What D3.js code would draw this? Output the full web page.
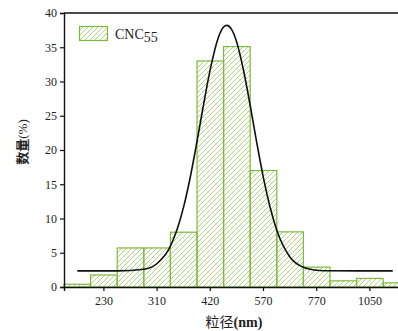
<!DOCTYPE html>
<html>
<head>
<meta charset="utf-8">
<script src="https://cdn.jsdelivr.net/npm/d3@7/dist/d3.min.js"></script>
<style>
  body { margin: 0; background: #fff; }
  svg { display: block; }
</style>
</head>
<body>
<svg id="chart" width="398" height="331"></svg>
<script>
// bins (nm) - only every other one gets a label on the axis
const sizes = ["190", "230", "270", "310", "370", "420", "490", "570", "660", "770", "900", "1050", "1200"];
const counts = [0.4, 1.75, 5.7, 5.7, 8.0, 33.0, 35.1, 17.0, 8.05, 2.9, 0.9, 1.25, 0.6];
const tickLabels = ["230", "310", "420", "570", "770", "1050"];
const yTicks = [0, 5, 10, 15, 20, 25, 30, 35, 40];

// gaussian fit (x in bin units from the left edge)
const fitX = [0.5, 2, 3, 3.5, 4, 4.25, 4.5, 4.75, 5, 5.25, 5.5, 5.8, 6.0, 6.12, 6.3, 6.5, 6.75, 7, 7.25, 7.5, 7.75, 8, 8.5, 9, 9.5, 10, 12.36];
const fitY = [2.35, 2.36, 2.6, 3.43, 5.97, 8.4, 11.74, 16.1, 21.25, 26.7, 31.8, 36.4, 37.95, 38.2, 37.6, 35.65, 31.6, 26.5, 21.0, 15.9, 11.6, 8.27, 4.34, 2.87, 2.45, 2.37, 2.35];

const margin = { left: 64, top: 13, bottom: 44 };
const height = 331;
const bandW = 26.6;
const serif = "'Liberation Serif', 'DejaVu Serif', serif";
const cjk = "'Noto Sans CJK SC', sans-serif";

const svg = d3.select('#chart');

const defs = svg.append("defs");
const pat = defs.append("pattern")
  .attr("id", "hatch")
  .attr("patternUnits", "userSpaceOnUse")
  .attr("width", 5)
  .attr("height", 5);
pat.append("path")
  .attr("d", "M-1,1 l2,-2 M0,5 l5,-5 M4,6 l2,-2")
  .attr("stroke", "#a3cf6c")
  .attr("stroke-width", 0.9);

const x = d3.scaleBand()
  .domain(sizes)
  .range([margin.left, margin.left + bandW * sizes.length])
  .padding(0);

const xu = d3.scaleLinear()
  .domain([0, sizes.length])
  .range([margin.left, margin.left + bandW * sizes.length]);

const y = d3.scaleLinear()
  .domain([0, 40])
  .range([height - margin.bottom, margin.top]);

// bars
svg.append("g")
  .selectAll("rect")
  .data(counts)
  .enter().append("rect")
  .attr("x", (d, i) => x(sizes[i]))
  .attr("y", d => y(d))
  .attr("width", x.bandwidth())
  .attr("height", d => y(0) - y(d))
  .attr("fill", "url(#hatch)")
  .attr("stroke", "#7cba3a")
  .attr("stroke-width", 1.2);

// fit curve
const pts = fitX.map((v, i) => [v, fitY[i]]);
svg.append("path")
  .datum(pts)
  .attr("fill", "none")
  .attr("stroke", "#111")
  .attr("stroke-width", 1.6)
  .attr("d", d3.line()
    .x(d => xu(d[0]))
    .y(d => y(d[1]))
    .curve(d3.curveMonotoneX));

// axes
const yAxis = svg.append("g")
  .attr("transform", "translate(" + margin.left + ",0)")
  .call(d3.axisLeft(y).tickValues(yTicks).tickSize(4).tickPadding(3));
const xAxis = svg.append("g")
  .attr("transform", "translate(0," + y(0) + ")")
  .call(d3.axisBottom(x).tickValues(tickLabels).tickSize(4).tickPadding(5));

[yAxis, xAxis].forEach(a => {
  a.select(".domain").attr("stroke", "#111").attr("stroke-width", 1.4);
  a.selectAll(".tick line").attr("stroke", "#111").attr("stroke-width", 1.2);
  a.selectAll("text")
    .attr("font-family", serif)
    .attr("font-size", 12)
    .attr("fill", "#222");
});

// top frame
svg.append("line")
  .attr("x1", margin.left).attr("x2", 398)
  .attr("y1", y(40)).attr("y2", y(40))
  .attr("stroke", "#111").attr("stroke-width", 1.6);

// legend
svg.append("rect")
  .attr("x", 79.5).attr("y", 26.5)
  .attr("width", 28).attr("height", 14)
  .attr("fill", "url(#hatch)")
  .attr("stroke", "#7cba3a")
  .attr("stroke-width", 1.2);
const lt = svg.append("text")
  .attr("x", 115).attr("y", 39)
  .attr("font-family", serif)
  .attr("font-size", 14)
  .attr("fill", "#222");
lt.append("tspan").text("CNC");
lt.append("tspan").attr("dy", 3).text("55");

// axis titles
const yt = svg.append("text")
  .attr("transform", "translate(27,142) rotate(-90)")
  .attr("text-anchor", "middle")
  .attr("font-size", 13)
  .attr("fill", "#222");
yt.append("tspan").attr("font-family", cjk).attr("font-weight", "bold").text("数量");
yt.append("tspan").attr("font-family", serif).text("(%)");

const xt = svg.append("text")
  .attr("x", 234).attr("y", 327)
  .attr("text-anchor", "middle")
  .attr("font-size", 14)
  .attr("fill", "#222");
xt.append("tspan").attr("font-family", cjk).text("粒径");
xt.append("tspan").attr("font-family", serif).attr("font-weight", "bold").text("(nm)");
</script>
</body>
</html>
